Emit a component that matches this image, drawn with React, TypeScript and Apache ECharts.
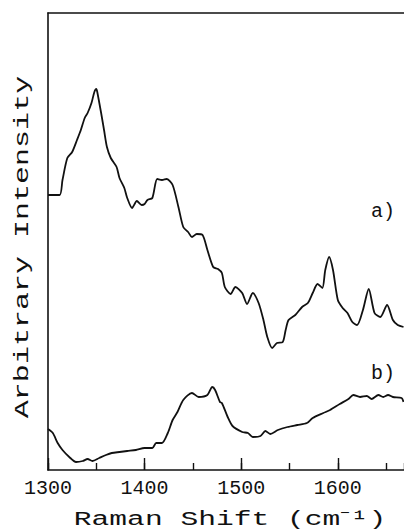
import React, { useEffect, useRef } from "react";
import * as echarts from "echarts";

// Raman shift (cm^-1) and arbitrary intensity
const ramanShiftA = [1300, 1312, 1315, 1320, 1325, 1330, 1334, 1338, 1341, 1345, 1348, 1350, 1351, 1355, 1358, 1361, 1365, 1371, 1374, 1379, 1382, 1387, 1392, 1397, 1400, 1403, 1408, 1413, 1418, 1423, 1429, 1435, 1440, 1445, 1449, 1454, 1460, 1465, 1471, 1476, 1480, 1483, 1489, 1494, 1501, 1506, 1512, 1518, 1523, 1527, 1532, 1537, 1543, 1546, 1549, 1556, 1563, 1569, 1574, 1579, 1584, 1587, 1591, 1595, 1600, 1605, 1610, 1615, 1620, 1626, 1632, 1638, 1644, 1651, 1657, 1662, 1668];
const intensityA = [275, 275, 290, 312, 318, 330, 340, 352, 357, 367, 378, 381, 378, 357, 340, 323, 312, 303, 292, 282, 272, 262, 269, 265, 266, 270, 272, 291, 290, 291, 285, 263, 243, 238, 233, 236, 235, 220, 203, 201, 197, 183, 176, 183, 177, 166, 177, 167, 150, 133, 122, 127, 128, 140, 150, 155, 163, 167, 177, 186, 182, 200, 213, 200, 170, 162, 157, 148, 145, 160, 181, 157, 153, 165, 150, 145, 143];

const ramanShiftB = [1300, 1305, 1310, 1315, 1322, 1329, 1336, 1341, 1346, 1353, 1360, 1366, 1374, 1382, 1391, 1400, 1408, 1412, 1418, 1424, 1429, 1434, 1440, 1449, 1456, 1465, 1470, 1473, 1478, 1480, 1486, 1491, 1501, 1507, 1512, 1520, 1525, 1530, 1538, 1548, 1558, 1568, 1574, 1585, 1592, 1602, 1611, 1616, 1623, 1630, 1635, 1642, 1647, 1652, 1657, 1666, 1668];
const intensityB = [41, 37, 27, 20, 13, 8, 9, 11, 9, 12, 15, 17, 18, 19, 20, 22, 22, 27, 27, 37, 50, 58, 70, 77, 73, 75, 83, 80, 68, 67, 53, 44, 38, 37, 33, 34, 39, 36, 40, 43, 45, 47, 52, 57, 60, 66, 71, 75, 73, 74, 71, 75, 73, 75, 73, 72, 68];

const xRange = [1300, 1668.5];
const xMajorStep = 100;
const xMinorStep = 50;
const yRange = [0, 457];

const xTitle = "Raman Shift (cm\u207B\u00B9)";
const yTitle = "Arbitrary Intensity";
const curveLabels = ["a)", "b)"];

const FONT = "Liberation Mono";
const INK = "#111111";

export default function App() {
  const ref = useRef<HTMLDivElement>(null);

  useEffect(() => {
    if (!ref.current) return;
    const chart = echarts.init(ref.current, null, { renderer: "svg" });
    const dataA = ramanShiftA.map((x, i) => [x, intensityA[i]]);
    const dataB = ramanShiftB.map((x, i) => [x, intensityB[i]]);

    const axisLine = { show: true, lineStyle: { color: INK, width: 1.6 } };
    const noSplit = { show: false };

    chart.setOption({
      animation: false,
      backgroundColor: "#ffffff",
      grid: { left: 48, top: 13, right: 0, bottom: 61, containLabel: false },
      xAxis: [
        {
          type: "value",
          min: xRange[0],
          max: xRange[1],
          interval: xMajorStep,
          position: "bottom",
          axisLine,
          axisTick: { show: true, inside: true, length: 12, lineStyle: { color: INK, width: 1.4 } },
          axisLabel: {
            show: true,
            showMaxLabel: false,
            margin: 8,
            color: INK,
            fontFamily: FONT,
            fontSize: 20,
            formatter: (v: number) => String(Math.round(v)),
          },
          splitLine: noSplit,
        },
        {
          type: "value",
          min: xRange[0],
          max: xRange[1],
          interval: xMinorStep,
          position: "bottom",
          axisLine: { show: false },
          axisTick: { show: true, inside: true, length: 7, lineStyle: { color: INK, width: 1.4 } },
          axisLabel: { show: false },
          splitLine: noSplit,
        },
        {
          type: "value",
          min: xRange[0],
          max: xRange[1],
          position: "top",
          axisLine,
          axisTick: { show: false },
          axisLabel: { show: false },
          splitLine: noSplit,
        },
      ],
      yAxis: {
        type: "value",
        min: yRange[0],
        max: yRange[1],
        axisLine,
        axisTick: { show: false },
        axisLabel: { show: false },
        splitLine: noSplit,
      },
      series: [
        {
          type: "line",
          data: dataA,
          showSymbol: false,
          smooth: 0.25,
          lineStyle: { color: INK, width: 1.8 },
        },
        {
          type: "line",
          data: dataB,
          showSymbol: false,
          smooth: 0.25,
          lineStyle: { color: INK, width: 1.8 },
        },
      ],
      graphic: [
        {
          type: "text",
          x: 230,
          y: 520,
          scaleX: 1.41,
          style: {
            text: xTitle,
            fontFamily: FONT,
            fontSize: 21,
            fill: INK,
            align: "center",
            verticalAlign: "middle",
          },
        },
        {
          type: "text",
          x: 22,
          y: 247,
          rotation: Math.PI / 2,
          scaleX: 1.43,
          style: {
            text: yTitle,
            fontFamily: FONT,
            fontSize: 21,
            fill: INK,
            align: "center",
            verticalAlign: "middle",
          },
        },
        {
          type: "text",
          x: 383,
          y: 211,
          style: {
            text: curveLabels[0],
            fontFamily: FONT,
            fontSize: 20,
            fill: INK,
            align: "center",
            verticalAlign: "middle",
          },
        },
        {
          type: "text",
          x: 383,
          y: 373,
          style: {
            text: curveLabels[1],
            fontFamily: FONT,
            fontSize: 20,
            fill: INK,
            align: "center",
            verticalAlign: "middle",
          },
        },
      ],
    });

    return () => chart.dispose();
  }, []);

  return (
    <div
      ref={ref}
      style={{ position: "absolute", left: 0, top: 0, width: 404, height: 531, background: "#fff" }}
    />
  );
}
